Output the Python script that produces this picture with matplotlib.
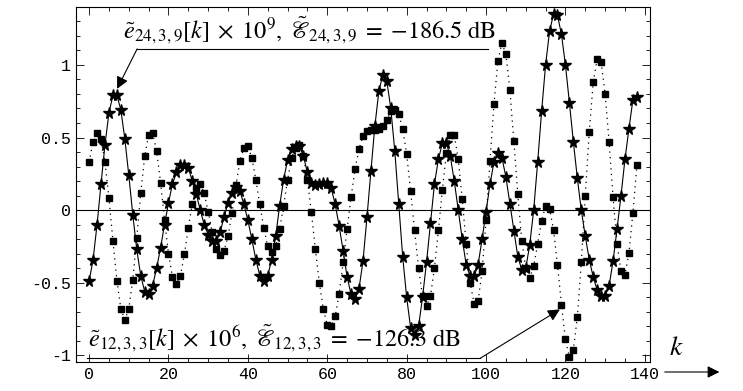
import numpy as np
import matplotlib.pyplot as plt
from matplotlib.ticker import MultipleLocator
from matplotlib.patches import FancyArrowPatch

plt.rcParams['mathtext.fontset'] = 'stix'

# e_{24,3,9}[k] x 1e9 (stars, solid)
e24 = [-0.49, -0.34, -0.10, 0.18, 0.45, 0.67, 0.79, 0.79, 0.69, 0.49,
       0.24, -0.03, -0.27, -0.45, -0.56, -0.58, -0.52, -0.40, -0.26, -0.10,
       0.05, 0.18, 0.26, 0.31, 0.31, 0.29, 0.20, 0.11, 0.00, -0.10,
       -0.17, -0.21, -0.21, -0.15, -0.05, 0.05, 0.12, 0.16, 0.13, 0.04,
       -0.07, -0.20, -0.34, -0.45, -0.49, -0.45, -0.34, -0.18, 0.03, 0.21,
       0.345, 0.42, 0.44, 0.44, 0.37, 0.26, 0.19, 0.17, 0.18, 0.19,
       0.19, 0.15, 0.04, -0.11, -0.28, -0.46, -0.58, -0.61, -0.54, -0.35,
       -0.05, 0.27, 0.58, 0.82, 0.93, 0.89, 0.70, 0.41, 0.045, -0.32,
       -0.60, -0.81, -0.86, -0.80, -0.60, -0.36, -0.09, 0.18, 0.35, 0.46,
       0.46, 0.37, 0.20, 0.00, -0.20, -0.375, -0.455, -0.455, -0.375, -0.20,
       -0.01, 0.18, 0.33, 0.39, 0.36, 0.23, 0.045, -0.145, -0.32, -0.41,
       -0.40, -0.24, 0.00, 0.33, 0.68, 1.00, 1.23, 1.35, 1.34, 1.21,
       1.00, 0.74, 0.47, 0.22, 0.00, -0.18, -0.34, -0.46, -0.55, -0.59,
       -0.59, -0.52, -0.35, -0.13, 0.10, 0.35, 0.56, 0.76, 0.78]

# e_{12,3,3}[k] x 1e6 (squares, dotted)
e12 = [0.33, 0.47, 0.53, 0.49, 0.33, 0.085, -0.21, -0.485, -0.68, -0.755,
       -0.68, -0.48, -0.19, 0.115, 0.37, 0.52, 0.53, 0.41, 0.19, -0.065,
       -0.30, -0.46, -0.51, -0.45, -0.305, -0.12, 0.045, 0.155, 0.18, 0.115,
       -0.01, -0.15, -0.27, -0.31, -0.28, -0.18, -0.02, 0.17, 0.34, 0.43,
       0.44, 0.36, 0.21, 0.04, -0.12, -0.25, -0.29, -0.25, -0.13, 0.03,
       0.21, 0.36, 0.43, 0.45, 0.37, 0.21, -0.015, -0.27, -0.50, -0.68,
       -0.79, -0.80, -0.73, -0.575, -0.36, -0.13, 0.09, 0.285, 0.42, 0.51,
       0.545, 0.55, 0.555, 0.56, 0.58, 0.62, 0.68, 0.69, 0.66, 0.56,
       0.385, 0.13, -0.14, -0.40, -0.59, -0.66, -0.59, -0.40, -0.14, 0.14,
       0.39, 0.52, 0.515, 0.35, 0.075, -0.235, -0.50, -0.645, -0.625, -0.42,
       -0.07, 0.34, 0.73, 1.03, 1.15, 1.075, 0.83, 0.475, 0.11, -0.21,
       -0.40, -0.465, -0.385, -0.235, -0.075, 0.03, 0.01, -0.135, -0.375, -0.65,
       -0.89, -1.01, -0.96, -0.735, -0.36, 0.10, 0.54, 0.88, 1.04, 1.02,
       0.80, 0.47, 0.09, -0.23, -0.42, -0.445, -0.295, -0.02, 0.31]

k = np.arange(len(e24))

label24 = (r'$\tilde{e}_{24,3,9}[k]\;\times\;10^{9},\;'
           r'\tilde{\mathscr{E}}_{24,3,9}\;=\;{-}186.5\ \mathrm{dB}$')
label12 = (r'$\tilde{e}_{12,3,3}[k]\;\times\;10^{6},\;'
           r'\tilde{\mathscr{E}}_{12,3,3}\;=\;{-}126.3\ \mathrm{dB}$')

fig = plt.figure(figsize=(7.43, 3.91), dpi=100)
ax = fig.add_axes([0.1023, 0.0742, 0.7725, 0.9078])

ax.axhline(0, color='k', lw=0.8, zorder=1)
ax.plot(k, e12, color='k', ls=(0, (1, 3.5)), lw=0.9, marker='s', ms=5, zorder=2)
ax.plot(k, e24, color='k', ls='-', lw=0.8, marker='*', ms=8.5, zorder=3)

ax.set_xlim(-3.3, 141.3)
ax.set_ylim(-1.045, 1.398)
ax.xaxis.set_major_locator(MultipleLocator(20))
ax.xaxis.set_minor_locator(MultipleLocator(5))
ax.yaxis.set_minor_locator(MultipleLocator(0.1))
ax.set_yticks([-1, -0.5, 0, 0.5, 1])
ax.set_yticklabels(['-1', '-0.5', '0', '0.5', '1'])
ax.tick_params(which='both', direction='in', top=True, right=True,
               labelsize=12, width=0.6)
ax.tick_params(which='major', length=6)
ax.tick_params(which='minor', length=3)
for lab in ax.get_xticklabels() + ax.get_yticklabels():
    lab.set_family('Liberation Mono')
for sp in ax.spines.values():
    sp.set_linewidth(0.8)

# annotations
ax.text(8.6, 1.185, label24, fontsize=17.5, ha='left', va='baseline')
ax.plot([12.1, 100.5], [1.11, 1.11], color='k', lw=0.8, clip_on=False)
ax.annotate('', xy=(7.05, 0.835), xytext=(12.1, 1.11),
            arrowprops=dict(arrowstyle='-|>', color='k', lw=0.8,
                            mutation_scale=18, shrinkA=0, shrinkB=0))

ax.text(-0.25, -0.935, label12, fontsize=17.5, ha='left', va='baseline')
ax.plot([-0.5, 98.5], [-1.02, -1.02], color='k', lw=0.8, clip_on=False)
ax.annotate('', xy=(118.6, -0.683), xytext=(98.5, -1.02),
            arrowprops=dict(arrowstyle='-|>', color='k', lw=0.8,
                            mutation_scale=18, shrinkA=0, shrinkB=0))

# k axis arrow
fig.text(0.911, 0.113, r'$k$', fontsize=20, ha='center', va='center')
fig.patches.append(FancyArrowPatch(
    (0.891, 0.0486), (0.972, 0.0486), transform=fig.transFigure,
    arrowstyle='-|>', mutation_scale=18, color='k', lw=0.8))

fig.savefig('out.png', dpi=100)
